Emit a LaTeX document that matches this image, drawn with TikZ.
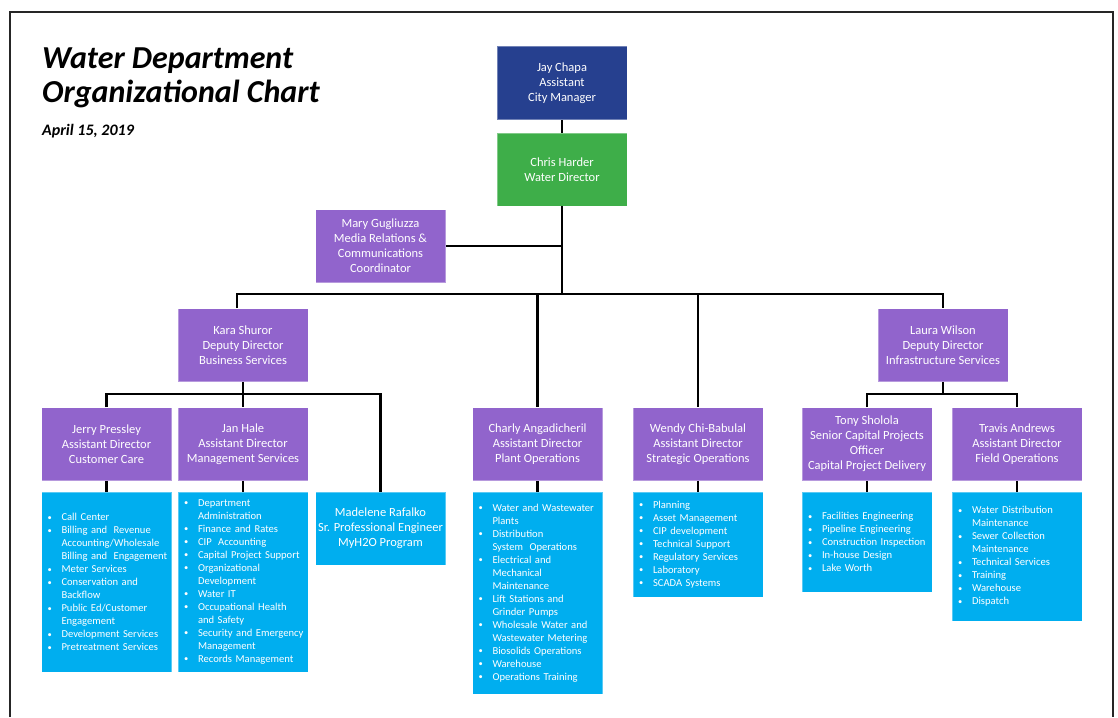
\documentclass[tikz,border=0pt]{standalone}
\usepackage{fontspec}
\setmainfont{Carlito}
\definecolor{cmblue}{HTML}{26408F}
\definecolor{dirgreen}{HTML}{3EAE49}
\definecolor{mgrpurple}{HTML}{9164CC}
\definecolor{listblue}{HTML}{00AEEF}
\newcommand{\li}[1]{\mbox{\makebox[14pt][l]{\raisebox{0.5pt}{\scalebox{0.8}{•}}}#1}}
\newcommand{\lc}[1]{\mbox{\hspace*{14pt}#1}}
\newcommand{\dsp}{\hspace{0.6em}}
\begin{document}
\begin{tikzpicture}[x=1pt,y=-1pt,
  box/.style={rectangle, draw=white, draw opacity=0.35, line width=0.8pt, text=white,
    minimum width=130pt, minimum height=73pt, align=center, inner sep=2pt,
    font=\fontsize{12.5}{15}\selectfont},
  mgr/.style={box, fill=mgrpurple},
  listbox/.style={rectangle, fill=listblue, draw=white, draw opacity=0.35, line width=0.8pt,
    text=white, text width=118pt, inner xsep=6pt, align=left,
    font=\fontsize{10.6}{13}\selectfont},
  conn/.style={line width=2.6pt, black},
  titletext/.style={anchor=base west, inner sep=0pt, font=\fontsize{32}{38}\selectfont\bfseries\itshape}
]
\useasboundingbox (0,0) rectangle (1118,717);
\fill[white] (0,0) rectangle (1118,717);
\draw[line width=1.8pt, black!85] (10,717) -- (10,12) -- (1113,12) -- (1113,717);

\node[titletext] (t1) at (42,69) {Water Department};
\node[titletext] (t2) at (42,102) {Organizational Chart};
\node[anchor=base west, inner sep=0pt, font=\fontsize{16}{18}\selectfont\bfseries\itshape] (t3) at (42,135) {April 15, 2019};

% boxes
\node[box, fill=cmblue] (jay) at (562,83) {Jay Chapa\\Assistant\\City Manager};
\node[box, fill=dirgreen] (chris) at (562,169.5) {Chris Harder\\Water Director};
\node[mgr] (mary) at (380.5,246) {Mary Gugliuzza\\Media Relations \&\\Communications\\Coordinator};
\node[mgr] (kara) at (243,345) {Kara Shuror\\Deputy Director\\Business Services};
\node[mgr] (laura) at (943,345) {Laura Wilson\\Deputy Director\\Infrastructure Services};
\node[mgr] (jerry) at (106.5,444) {Jerry Pressley\\Assistant Director\\Customer Care};
\node[mgr] (jan) at (243,444) {Jan Hale\\Assistant Director\\Management Services};
\node[mgr] (charly) at (537.5,444) {Charly Angadicheril\\Assistant Director\\Plant Operations};
\node[mgr] (wendy) at (698,444) {Wendy Chi-Babulal\\Assistant Director\\Strategic Operations};
\node[mgr] (tony) at (867,444) {Tony Sholola\\Senior Capital Projects\\Officer\\Capital Project Delivery};
\node[mgr] (travis) at (1017,444) {Travis Andrews\\Assistant Director\\Field Operations};
\node[box, fill=listblue] (madelene) at (380.5,528.5) {Madelene Rafalko\\Sr. Professional Engineer\\MyH2O Program};

% lists
\node[listbox, minimum height=180pt] (jerrylist) at (106.5,582) {\li{Call Center}\\\li{Billing and\dsp Revenue}\\\lc{Accounting/Wholesale}\\\lc{Billing and\dsp Engagement}\\\li{Meter Services}\\\li{Conservation and}\\\lc{Backflow}\\\li{Public Ed/Customer}\\\lc{Engagement}\\\li{Development Services}\\\li{Pretreatment Services}};
\node[listbox, minimum height=180pt] (janlist) at (243,582) {\li{Department}\\\lc{Administration}\\\li{Finance and Rates}\\\li{CIP\dsp Accounting}\\\li{Capital Project Support}\\\li{Organizational}\\\lc{Development}\\\li{Water IT}\\\li{Occupational Health}\\\lc{and Safety}\\\li{Security and Emergency}\\\lc{Management}\\\li{Records Management}};
\node[listbox, minimum height=202pt] (charlylist) at (537.5,593) {\li{Water and Wastewater}\\\lc{Plants}\\\li{Distribution}\\\lc{System\dsp Operations}\\\li{Electrical and}\\\lc{Mechanical}\\\lc{Maintenance}\\\li{Lift Stations and}\\\lc{Grinder Pumps}\\\li{Wholesale Water and}\\\lc{Wastewater Metering}\\\li{Biosolids Operations}\\\li{Warehouse}\\\li{Operations Training}};
\node[listbox, minimum height=105pt] (wendylist) at (698,544.5) {\li{Planning}\\\li{Asset Management}\\\li{CIP development}\\\li{Technical Support}\\\li{Regulatory Services}\\\li{Laboratory}\\\li{SCADA Systems}};
\node[listbox, minimum height=100pt] (tonylist) at (867,542) {\li{Facilities Engineering}\\\li{Pipeline Engineering}\\\li{Construction Inspection}\\\li{In-house Design}\\\li{Lake Worth}};
\node[listbox, minimum height=129pt] (travislist) at (1017,556.5) {\li{Water Distribution}\\\lc{Maintenance}\\\li{Sewer Collection}\\\lc{Maintenance}\\\li{Technical Services}\\\li{Training}\\\li{Warehouse}\\\li{Dispatch}};

% connectors
\coordinate (bar1) at (562,294);
\coordinate (bar2) at (243,394);
\coordinate (bar3) at (943,394);
\coordinate (karatop) at (237,308);
\draw[conn] (jay.south) -- (chris.north);
\draw[conn] (chris.south) -- (bar1);
\draw[conn] (mary.east) -- (mary.east -| chris.south);
\draw[conn] (karatop) |- (bar1) -| (laura.north);
\draw[conn] (bar1) -| (charly.north);
\draw[conn] (bar1) -| (wendy.north);
\draw[conn] (kara.south) -- (bar2);
\draw[conn] (jerry.north) |- (bar2) -| (madelene.north);
\draw[conn] (bar2) -- (jan.north);
\draw[conn] (laura.south) -- (bar3);
\draw[conn] (tony.north) |- (bar3) -| (travis.north);
\draw[conn] (jerry.south) -- (jerrylist.north);
\draw[conn] (jan.south) -- (janlist.north);
\draw[conn] (charly.south) -- (charlylist.north);
\draw[conn] (wendy.south) -- (wendylist.north);
\draw[conn] (tony.south) -- (tonylist.north);
\draw[conn] (travis.south) -- (travislist.north);
\end{tikzpicture}
\end{document}
